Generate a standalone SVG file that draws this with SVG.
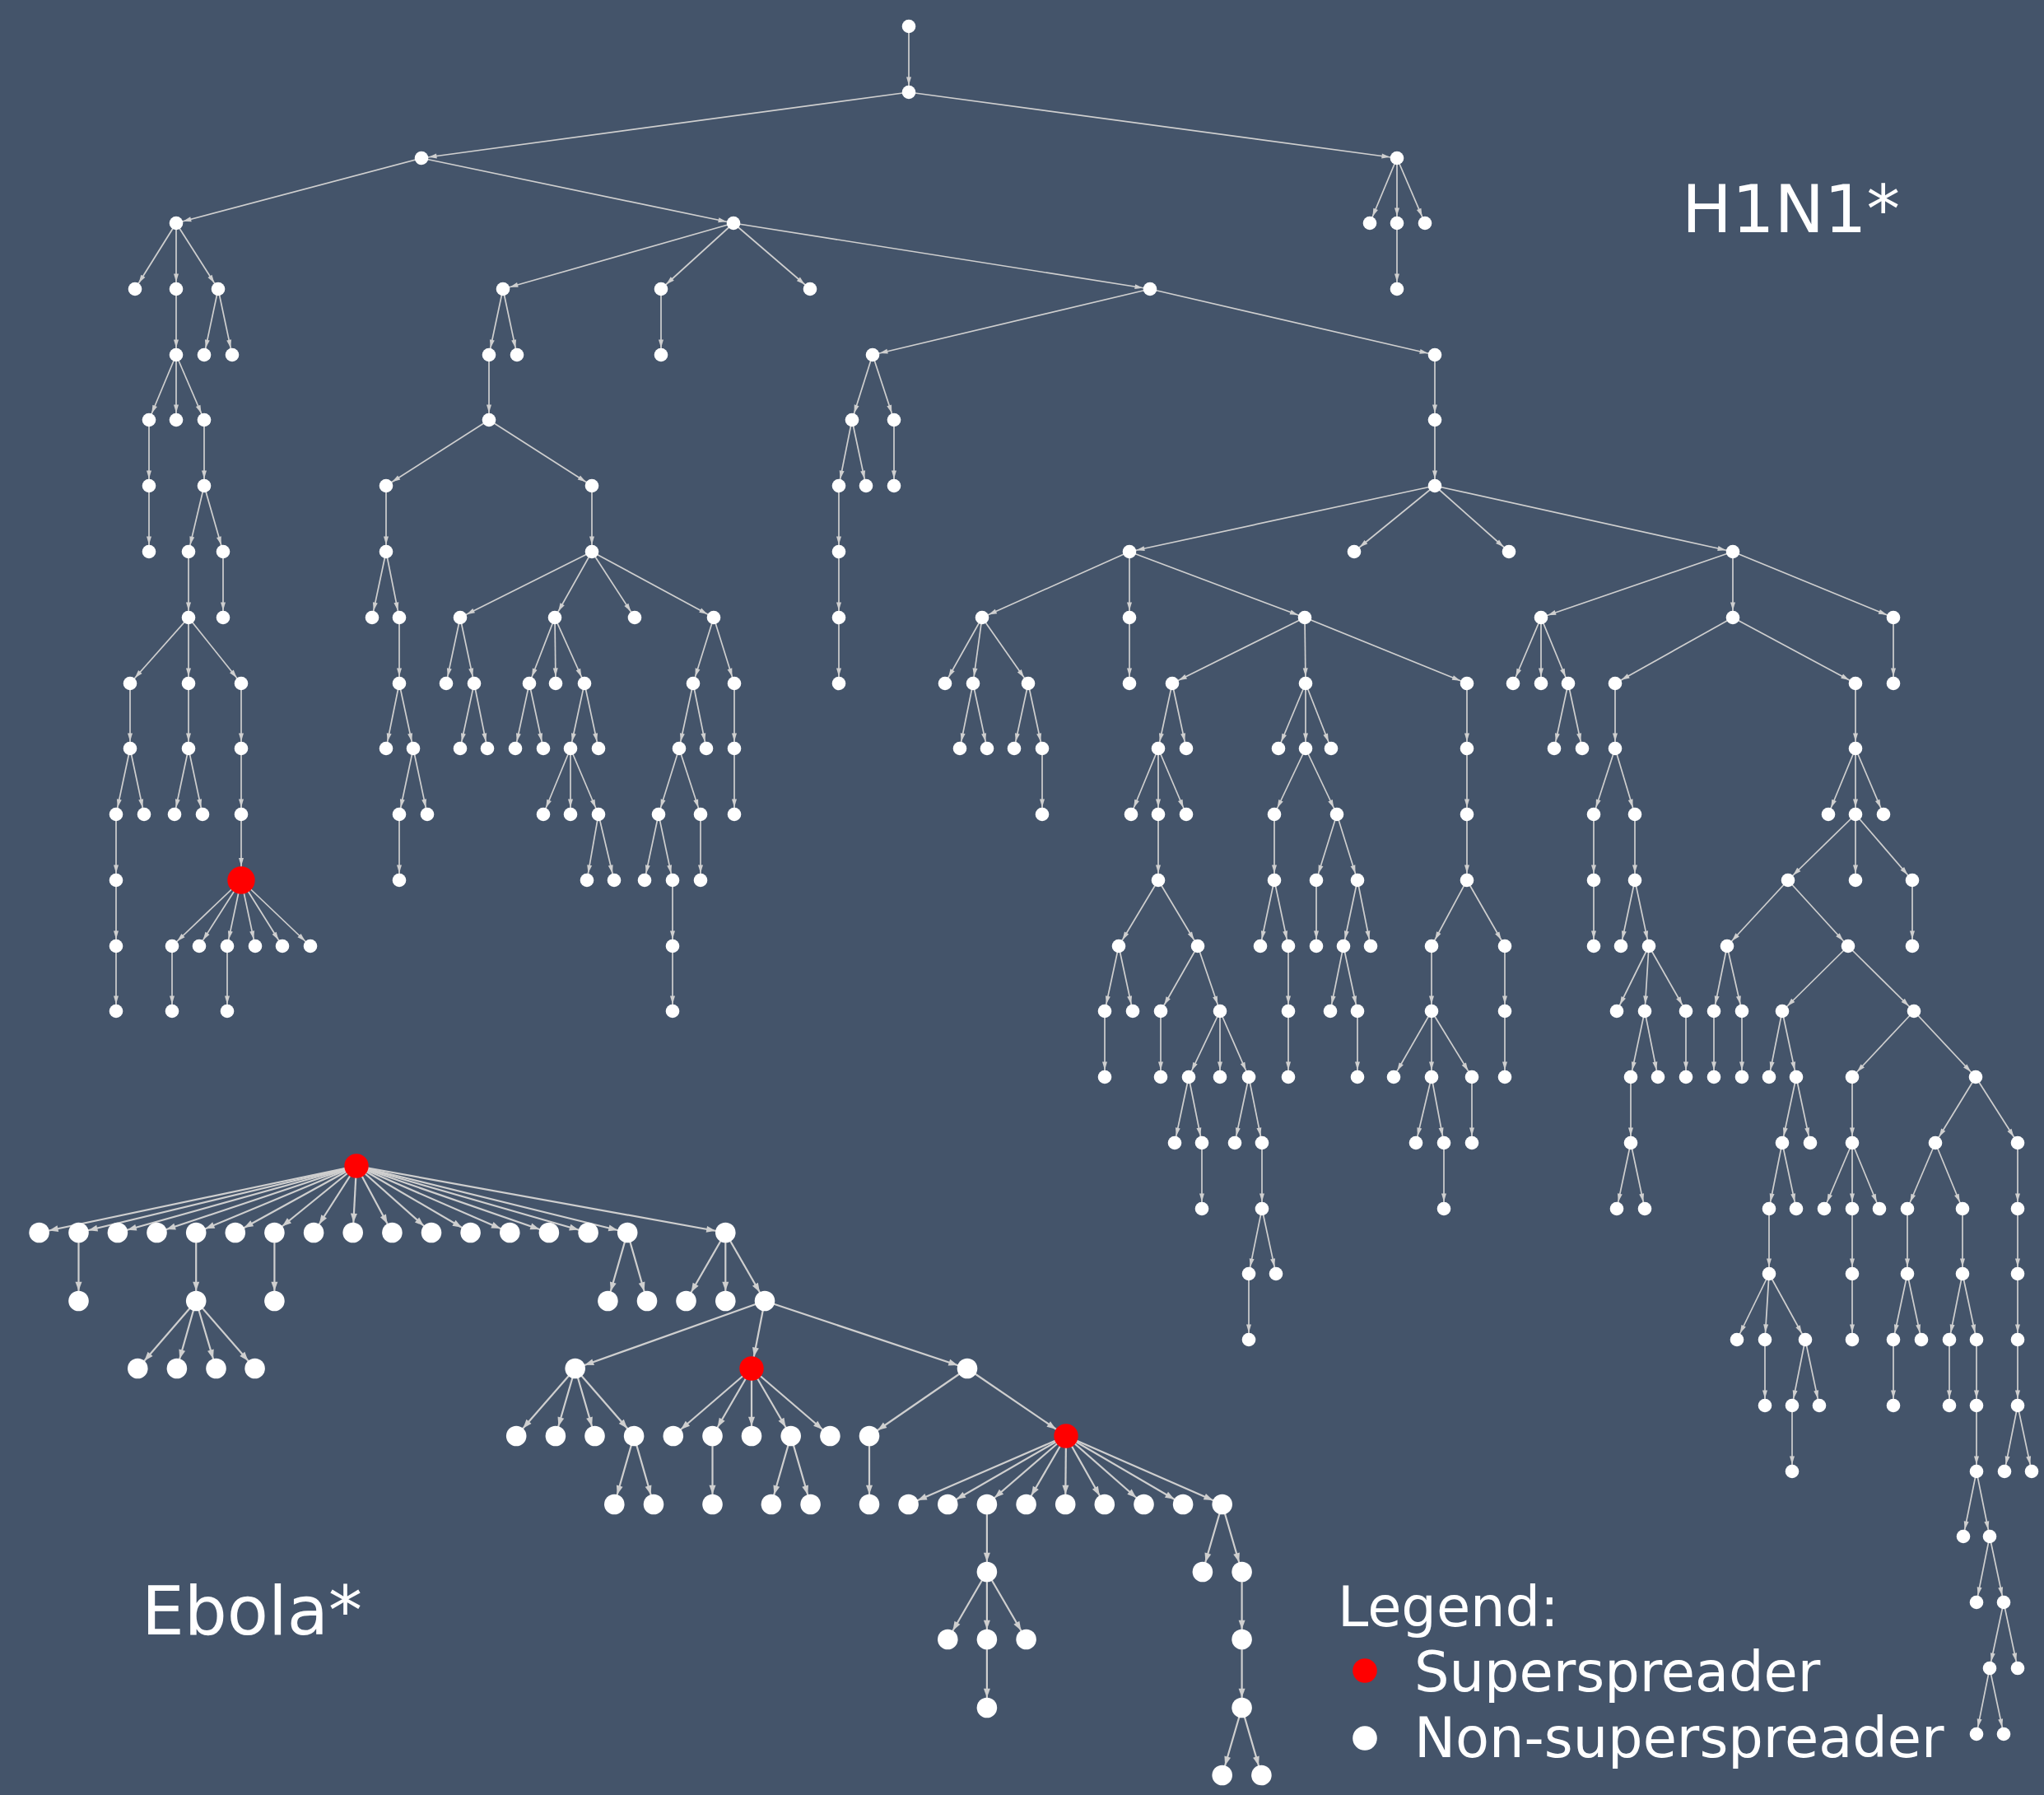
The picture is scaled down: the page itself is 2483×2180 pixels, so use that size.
<svg xmlns="http://www.w3.org/2000/svg" width="2483" height="2180" viewBox="0 0 2483 2180">
<defs>
<style>
.eh line{stroke:#cfcfcf;stroke-width:1.7;marker-end:url(#ah)}
.eh line.r{marker-end:url(#ahr)}
.ee line{stroke:#cfcfcf;stroke-width:2.2;marker-end:url(#ae)}
.ee line.r{marker-end:url(#aer)}
.w circle{fill:#ffffff}
circle.s{fill:#ff0000}
text{font-family:"DejaVu Sans","Liberation Sans",sans-serif;fill:#ffffff}
</style>
<marker id="ah" markerUnits="userSpaceOnUse" markerWidth="11" markerHeight="6" refX="18.6" refY="3" orient="auto" style="overflow:visible"><path d="M0,0L10,3L0,6z" fill="#cfcfcf"/></marker>
<marker id="ahr" markerUnits="userSpaceOnUse" markerWidth="11" markerHeight="6" refX="27" refY="3" orient="auto" style="overflow:visible"><path d="M0,0L10,3L0,6z" fill="#cfcfcf"/></marker>
<marker id="ae" markerUnits="userSpaceOnUse" markerWidth="12" markerHeight="8" refX="23.3" refY="4" orient="auto" style="overflow:visible"><path d="M0,0L11,4L0,8z" fill="#cfcfcf"/></marker>
<marker id="aer" markerUnits="userSpaceOnUse" markerWidth="12" markerHeight="8" refX="25.8" refY="4" orient="auto" style="overflow:visible"><path d="M0,0L11,4L0,8z" fill="#cfcfcf"/></marker>
</defs>
<rect x="0" y="0" width="2483" height="2180" fill="#44546a"/>
<g id="connectors">
<g id="edges-h1n1" class="eh">
<line x1="1104" y1="32" x2="1104" y2="112"/>
<line x1="1104" y1="112" x2="512" y2="192"/>
<line x1="1104" y1="112" x2="1697" y2="192"/>
<line x1="1697" y1="192" x2="1664" y2="271"/>
<line x1="1697" y1="192" x2="1697" y2="271"/>
<line x1="1697" y1="192" x2="1731" y2="271"/>
<line x1="1697" y1="271" x2="1697" y2="351"/>
<line x1="512" y1="192" x2="214" y2="271"/>
<line x1="512" y1="192" x2="891" y2="271"/>
<line x1="214" y1="271" x2="164" y2="351"/>
<line x1="214" y1="271" x2="214" y2="351"/>
<line x1="214" y1="271" x2="265" y2="351"/>
<line x1="265" y1="351" x2="248" y2="431"/>
<line x1="265" y1="351" x2="282" y2="431"/>
<line x1="214" y1="351" x2="214" y2="431"/>
<line x1="214" y1="431" x2="181" y2="510"/>
<line x1="214" y1="431" x2="214" y2="510"/>
<line x1="214" y1="431" x2="248" y2="510"/>
<line x1="181" y1="510" x2="181" y2="590"/>
<line x1="181" y1="590" x2="181" y2="670"/>
<line x1="248" y1="510" x2="248" y2="590"/>
<line x1="248" y1="590" x2="229" y2="670"/>
<line x1="248" y1="590" x2="271" y2="670"/>
<line x1="229" y1="670" x2="229" y2="750"/>
<line x1="271" y1="670" x2="271" y2="750"/>
<line x1="229" y1="750" x2="158" y2="830"/>
<line x1="229" y1="750" x2="229" y2="830"/>
<line x1="229" y1="750" x2="293" y2="830"/>
<line x1="158" y1="830" x2="158" y2="909"/>
<line x1="158" y1="909" x2="141" y2="989"/>
<line x1="158" y1="909" x2="175" y2="989"/>
<line x1="141" y1="989" x2="141" y2="1069"/>
<line x1="141" y1="1069" x2="141" y2="1149"/>
<line x1="141" y1="1149" x2="141" y2="1228"/>
<line x1="229" y1="830" x2="229" y2="909"/>
<line x1="229" y1="909" x2="212" y2="989"/>
<line x1="229" y1="909" x2="246" y2="989"/>
<line x1="293" y1="830" x2="293" y2="909"/>
<line x1="293" y1="909" x2="293" y2="989"/>
<line class="r" x1="293" y1="989" x2="293" y2="1069"/>
<line x1="293" y1="1069" x2="209" y2="1149"/>
<line x1="293" y1="1069" x2="242" y2="1149"/>
<line x1="293" y1="1069" x2="276" y2="1149"/>
<line x1="293" y1="1069" x2="310" y2="1149"/>
<line x1="293" y1="1069" x2="343" y2="1149"/>
<line x1="293" y1="1069" x2="377" y2="1149"/>
<line x1="209" y1="1149" x2="209" y2="1228"/>
<line x1="276" y1="1149" x2="276" y2="1228"/>
<line x1="891" y1="271" x2="611" y2="351"/>
<line x1="891" y1="271" x2="803" y2="351"/>
<line x1="891" y1="271" x2="984" y2="351"/>
<line x1="891" y1="271" x2="1397" y2="351"/>
<line x1="611" y1="351" x2="594" y2="431"/>
<line x1="611" y1="351" x2="628" y2="431"/>
<line x1="803" y1="351" x2="803" y2="431"/>
<line x1="594" y1="431" x2="594" y2="510"/>
<line x1="594" y1="510" x2="469" y2="590"/>
<line x1="594" y1="510" x2="719" y2="590"/>
<line x1="469" y1="590" x2="469" y2="670"/>
<line x1="469" y1="670" x2="452" y2="750"/>
<line x1="469" y1="670" x2="485" y2="750"/>
<line x1="485" y1="750" x2="485" y2="830"/>
<line x1="485" y1="830" x2="469" y2="909"/>
<line x1="485" y1="830" x2="502" y2="909"/>
<line x1="502" y1="909" x2="485" y2="989"/>
<line x1="502" y1="909" x2="519" y2="989"/>
<line x1="485" y1="989" x2="485" y2="1069"/>
<line x1="719" y1="590" x2="719" y2="670"/>
<line x1="719" y1="670" x2="559" y2="750"/>
<line x1="719" y1="670" x2="674" y2="750"/>
<line x1="719" y1="670" x2="771" y2="750"/>
<line x1="719" y1="670" x2="867" y2="750"/>
<line x1="559" y1="750" x2="542" y2="830"/>
<line x1="559" y1="750" x2="576" y2="830"/>
<line x1="576" y1="830" x2="559" y2="909"/>
<line x1="576" y1="830" x2="592" y2="909"/>
<line x1="674" y1="750" x2="643" y2="830"/>
<line x1="674" y1="750" x2="675" y2="830"/>
<line x1="674" y1="750" x2="710" y2="830"/>
<line x1="643" y1="830" x2="626" y2="909"/>
<line x1="643" y1="830" x2="660" y2="909"/>
<line x1="710" y1="830" x2="693" y2="909"/>
<line x1="710" y1="830" x2="727" y2="909"/>
<line x1="693" y1="909" x2="660" y2="989"/>
<line x1="693" y1="909" x2="693" y2="989"/>
<line x1="693" y1="909" x2="727" y2="989"/>
<line x1="727" y1="989" x2="713" y2="1069"/>
<line x1="727" y1="989" x2="746" y2="1069"/>
<line x1="867" y1="750" x2="842" y2="830"/>
<line x1="867" y1="750" x2="892" y2="830"/>
<line x1="842" y1="830" x2="825" y2="909"/>
<line x1="842" y1="830" x2="858" y2="909"/>
<line x1="825" y1="909" x2="800" y2="989"/>
<line x1="825" y1="909" x2="851" y2="989"/>
<line x1="800" y1="989" x2="783" y2="1069"/>
<line x1="800" y1="989" x2="817" y2="1069"/>
<line x1="817" y1="1069" x2="817" y2="1149"/>
<line x1="817" y1="1149" x2="817" y2="1228"/>
<line x1="851" y1="989" x2="851" y2="1069"/>
<line x1="892" y1="830" x2="892" y2="909"/>
<line x1="892" y1="909" x2="892" y2="989"/>
<line x1="1397" y1="351" x2="1060" y2="431"/>
<line x1="1397" y1="351" x2="1743" y2="431"/>
<line x1="1060" y1="431" x2="1035" y2="510"/>
<line x1="1060" y1="431" x2="1086" y2="510"/>
<line x1="1035" y1="510" x2="1019" y2="590"/>
<line x1="1035" y1="510" x2="1052" y2="590"/>
<line x1="1086" y1="510" x2="1086" y2="590"/>
<line x1="1019" y1="590" x2="1019" y2="670"/>
<line x1="1019" y1="670" x2="1019" y2="750"/>
<line x1="1019" y1="750" x2="1019" y2="830"/>
<line x1="1743" y1="431" x2="1743" y2="510"/>
<line x1="1743" y1="510" x2="1743" y2="590"/>
<line x1="1743" y1="590" x2="1372" y2="670"/>
<line x1="1743" y1="590" x2="1645" y2="670"/>
<line x1="1743" y1="590" x2="1833" y2="670"/>
<line x1="1743" y1="590" x2="2105" y2="670"/>
<line x1="1372" y1="670" x2="1193" y2="750"/>
<line x1="1372" y1="670" x2="1372" y2="750"/>
<line x1="1372" y1="670" x2="1585" y2="750"/>
<line x1="1193" y1="750" x2="1148" y2="830"/>
<line x1="1193" y1="750" x2="1182" y2="830"/>
<line x1="1193" y1="750" x2="1249" y2="830"/>
<line x1="1182" y1="830" x2="1166" y2="909"/>
<line x1="1182" y1="830" x2="1199" y2="909"/>
<line x1="1249" y1="830" x2="1232" y2="909"/>
<line x1="1249" y1="830" x2="1266" y2="909"/>
<line x1="1266" y1="909" x2="1266" y2="989"/>
<line x1="1372" y1="750" x2="1372" y2="830"/>
<line x1="1585" y1="750" x2="1424" y2="830"/>
<line x1="1585" y1="750" x2="1586" y2="830"/>
<line x1="1585" y1="750" x2="1782" y2="830"/>
<line x1="1424" y1="830" x2="1407" y2="909"/>
<line x1="1424" y1="830" x2="1441" y2="909"/>
<line x1="1407" y1="909" x2="1374" y2="989"/>
<line x1="1407" y1="909" x2="1407" y2="989"/>
<line x1="1407" y1="909" x2="1441" y2="989"/>
<line x1="1407" y1="989" x2="1407" y2="1069"/>
<line x1="1407" y1="1069" x2="1359" y2="1149"/>
<line x1="1407" y1="1069" x2="1455" y2="1149"/>
<line x1="1359" y1="1149" x2="1342" y2="1228"/>
<line x1="1359" y1="1149" x2="1376" y2="1228"/>
<line x1="1342" y1="1228" x2="1342" y2="1308"/>
<line x1="1455" y1="1149" x2="1410" y2="1228"/>
<line x1="1455" y1="1149" x2="1482" y2="1228"/>
<line x1="1410" y1="1228" x2="1410" y2="1308"/>
<line x1="1482" y1="1228" x2="1444" y2="1308"/>
<line x1="1482" y1="1228" x2="1482" y2="1308"/>
<line x1="1482" y1="1228" x2="1517" y2="1308"/>
<line x1="1444" y1="1308" x2="1427" y2="1388"/>
<line x1="1444" y1="1308" x2="1460" y2="1388"/>
<line x1="1460" y1="1388" x2="1460" y2="1468"/>
<line x1="1517" y1="1308" x2="1500" y2="1388"/>
<line x1="1517" y1="1308" x2="1533" y2="1388"/>
<line x1="1533" y1="1388" x2="1533" y2="1468"/>
<line x1="1533" y1="1468" x2="1517" y2="1547"/>
<line x1="1533" y1="1468" x2="1550" y2="1547"/>
<line x1="1517" y1="1547" x2="1517" y2="1627"/>
<line x1="1586" y1="830" x2="1553" y2="909"/>
<line x1="1586" y1="830" x2="1586" y2="909"/>
<line x1="1586" y1="830" x2="1617" y2="909"/>
<line x1="1586" y1="909" x2="1548" y2="989"/>
<line x1="1586" y1="909" x2="1624" y2="989"/>
<line x1="1548" y1="989" x2="1548" y2="1069"/>
<line x1="1548" y1="1069" x2="1531" y2="1149"/>
<line x1="1548" y1="1069" x2="1565" y2="1149"/>
<line x1="1565" y1="1149" x2="1565" y2="1228"/>
<line x1="1565" y1="1228" x2="1565" y2="1308"/>
<line x1="1624" y1="989" x2="1599" y2="1069"/>
<line x1="1624" y1="989" x2="1649" y2="1069"/>
<line x1="1599" y1="1069" x2="1599" y2="1149"/>
<line x1="1649" y1="1069" x2="1632" y2="1149"/>
<line x1="1649" y1="1069" x2="1665" y2="1149"/>
<line x1="1632" y1="1149" x2="1616" y2="1228"/>
<line x1="1632" y1="1149" x2="1649" y2="1228"/>
<line x1="1649" y1="1228" x2="1649" y2="1308"/>
<line x1="1782" y1="830" x2="1782" y2="909"/>
<line x1="1782" y1="909" x2="1782" y2="989"/>
<line x1="1782" y1="989" x2="1782" y2="1069"/>
<line x1="1782" y1="1069" x2="1739" y2="1149"/>
<line x1="1782" y1="1069" x2="1828" y2="1149"/>
<line x1="1739" y1="1149" x2="1739" y2="1228"/>
<line x1="1739" y1="1228" x2="1693" y2="1308"/>
<line x1="1739" y1="1228" x2="1739" y2="1308"/>
<line x1="1739" y1="1228" x2="1788" y2="1308"/>
<line x1="1739" y1="1308" x2="1720" y2="1388"/>
<line x1="1739" y1="1308" x2="1754" y2="1388"/>
<line x1="1754" y1="1388" x2="1754" y2="1468"/>
<line x1="1788" y1="1308" x2="1788" y2="1388"/>
<line x1="1828" y1="1149" x2="1828" y2="1228"/>
<line x1="1828" y1="1228" x2="1828" y2="1308"/>
<line x1="2105" y1="670" x2="1872" y2="750"/>
<line x1="2105" y1="670" x2="2105" y2="750"/>
<line x1="2105" y1="670" x2="2300" y2="750"/>
<line x1="1872" y1="750" x2="1838" y2="830"/>
<line x1="1872" y1="750" x2="1872" y2="830"/>
<line x1="1872" y1="750" x2="1905" y2="830"/>
<line x1="1905" y1="830" x2="1888" y2="909"/>
<line x1="1905" y1="830" x2="1922" y2="909"/>
<line x1="2300" y1="750" x2="2300" y2="830"/>
<line x1="2105" y1="750" x2="1962" y2="830"/>
<line x1="2105" y1="750" x2="2254" y2="830"/>
<line x1="1962" y1="830" x2="1962" y2="909"/>
<line x1="1962" y1="909" x2="1936" y2="989"/>
<line x1="1962" y1="909" x2="1986" y2="989"/>
<line x1="1936" y1="989" x2="1936" y2="1069"/>
<line x1="1936" y1="1069" x2="1936" y2="1149"/>
<line x1="1986" y1="989" x2="1986" y2="1069"/>
<line x1="1986" y1="1069" x2="1969" y2="1149"/>
<line x1="1986" y1="1069" x2="2003" y2="1149"/>
<line x1="2003" y1="1149" x2="1964" y2="1228"/>
<line x1="2003" y1="1149" x2="1998" y2="1228"/>
<line x1="2003" y1="1149" x2="2048" y2="1228"/>
<line x1="1998" y1="1228" x2="1981" y2="1308"/>
<line x1="1998" y1="1228" x2="2014" y2="1308"/>
<line x1="1981" y1="1308" x2="1981" y2="1388"/>
<line x1="1981" y1="1388" x2="1964" y2="1468"/>
<line x1="1981" y1="1388" x2="1998" y2="1468"/>
<line x1="2048" y1="1228" x2="2048" y2="1308"/>
<line x1="2254" y1="830" x2="2254" y2="909"/>
<line x1="2254" y1="909" x2="2221" y2="989"/>
<line x1="2254" y1="909" x2="2254" y2="989"/>
<line x1="2254" y1="909" x2="2288" y2="989"/>
<line x1="2254" y1="989" x2="2172" y2="1069"/>
<line x1="2254" y1="989" x2="2254" y2="1069"/>
<line x1="2254" y1="989" x2="2323" y2="1069"/>
<line x1="2323" y1="1069" x2="2323" y2="1149"/>
<line x1="2172" y1="1069" x2="2098" y2="1149"/>
<line x1="2172" y1="1069" x2="2245" y2="1149"/>
<line x1="2098" y1="1149" x2="2082" y2="1228"/>
<line x1="2098" y1="1149" x2="2116" y2="1228"/>
<line x1="2082" y1="1228" x2="2082" y2="1308"/>
<line x1="2116" y1="1228" x2="2116" y2="1308"/>
<line x1="2245" y1="1149" x2="2165" y2="1228"/>
<line x1="2245" y1="1149" x2="2325" y2="1228"/>
<line x1="2165" y1="1228" x2="2149" y2="1308"/>
<line x1="2165" y1="1228" x2="2182" y2="1308"/>
<line x1="2182" y1="1308" x2="2165" y2="1388"/>
<line x1="2182" y1="1308" x2="2199" y2="1388"/>
<line x1="2165" y1="1388" x2="2149" y2="1468"/>
<line x1="2165" y1="1388" x2="2182" y2="1468"/>
<line x1="2149" y1="1468" x2="2149" y2="1547"/>
<line x1="2149" y1="1547" x2="2110" y2="1627"/>
<line x1="2149" y1="1547" x2="2144" y2="1627"/>
<line x1="2149" y1="1547" x2="2193" y2="1627"/>
<line x1="2144" y1="1627" x2="2144" y2="1707"/>
<line x1="2193" y1="1627" x2="2177" y2="1707"/>
<line x1="2193" y1="1627" x2="2210" y2="1707"/>
<line x1="2177" y1="1707" x2="2177" y2="1787"/>
<line x1="2325" y1="1228" x2="2250" y2="1308"/>
<line x1="2325" y1="1228" x2="2400" y2="1308"/>
<line x1="2250" y1="1308" x2="2250" y2="1388"/>
<line x1="2250" y1="1388" x2="2216" y2="1468"/>
<line x1="2250" y1="1388" x2="2250" y2="1468"/>
<line x1="2250" y1="1388" x2="2283" y2="1468"/>
<line x1="2250" y1="1468" x2="2250" y2="1547"/>
<line x1="2250" y1="1547" x2="2250" y2="1627"/>
<line x1="2400" y1="1308" x2="2351" y2="1388"/>
<line x1="2400" y1="1308" x2="2451" y2="1388"/>
<line x1="2351" y1="1388" x2="2317" y2="1468"/>
<line x1="2351" y1="1388" x2="2384" y2="1468"/>
<line x1="2317" y1="1468" x2="2317" y2="1547"/>
<line x1="2317" y1="1547" x2="2300" y2="1627"/>
<line x1="2317" y1="1547" x2="2334" y2="1627"/>
<line x1="2300" y1="1627" x2="2300" y2="1707"/>
<line x1="2384" y1="1468" x2="2384" y2="1547"/>
<line x1="2384" y1="1547" x2="2368" y2="1627"/>
<line x1="2384" y1="1547" x2="2401" y2="1627"/>
<line x1="2368" y1="1627" x2="2368" y2="1707"/>
<line x1="2401" y1="1627" x2="2401" y2="1707"/>
<line x1="2401" y1="1707" x2="2401" y2="1787"/>
<line x1="2401" y1="1787" x2="2385" y2="1866"/>
<line x1="2401" y1="1787" x2="2417" y2="1866"/>
<line x1="2417" y1="1866" x2="2401" y2="1946"/>
<line x1="2417" y1="1866" x2="2434" y2="1946"/>
<line x1="2434" y1="1946" x2="2417" y2="2026"/>
<line x1="2434" y1="1946" x2="2451" y2="2026"/>
<line x1="2417" y1="2026" x2="2401" y2="2106"/>
<line x1="2417" y1="2026" x2="2434" y2="2106"/>
<line x1="2451" y1="1388" x2="2451" y2="1468"/>
<line x1="2451" y1="1468" x2="2451" y2="1547"/>
<line x1="2451" y1="1547" x2="2451" y2="1627"/>
<line x1="2451" y1="1627" x2="2451" y2="1707"/>
<line x1="2451" y1="1707" x2="2435" y2="1787"/>
<line x1="2451" y1="1707" x2="2468" y2="1787"/>
</g>
<g id="edges-ebola" class="ee">
<line x1="433" y1="1416" x2="47.6" y2="1497"/>
<line x1="433" y1="1416" x2="95.5" y2="1497"/>
<line x1="433" y1="1416" x2="142.9" y2="1497"/>
<line x1="433" y1="1416" x2="190.5" y2="1497"/>
<line x1="433" y1="1416" x2="238.2" y2="1497"/>
<line x1="433" y1="1416" x2="285.8" y2="1497"/>
<line x1="433" y1="1416" x2="333.4" y2="1497"/>
<line x1="433" y1="1416" x2="381.1" y2="1497"/>
<line x1="433" y1="1416" x2="428.7" y2="1497"/>
<line x1="433" y1="1416" x2="476.4" y2="1497"/>
<line x1="433" y1="1416" x2="524" y2="1497"/>
<line x1="433" y1="1416" x2="571.6" y2="1497"/>
<line x1="433" y1="1416" x2="619.3" y2="1497"/>
<line x1="433" y1="1416" x2="666.9" y2="1497"/>
<line x1="433" y1="1416" x2="714.6" y2="1497"/>
<line x1="433" y1="1416" x2="762.2" y2="1497"/>
<line x1="433" y1="1416" x2="881.3" y2="1497"/>
<line x1="95.5" y1="1497" x2="95.5" y2="1580"/>
<line x1="238.2" y1="1497" x2="238.2" y2="1580"/>
<line x1="333.4" y1="1497" x2="333.4" y2="1580"/>
<line x1="762.2" y1="1497" x2="738.4" y2="1580"/>
<line x1="762.2" y1="1497" x2="786" y2="1580"/>
<line x1="881.3" y1="1497" x2="833.5" y2="1580"/>
<line x1="881.3" y1="1497" x2="881.3" y2="1580"/>
<line x1="881.3" y1="1497" x2="929" y2="1580"/>
<line x1="238.2" y1="1580" x2="167.3" y2="1662"/>
<line x1="238.2" y1="1580" x2="214.9" y2="1662"/>
<line x1="238.2" y1="1580" x2="262.5" y2="1662"/>
<line x1="238.2" y1="1580" x2="309.6" y2="1662"/>
<line x1="929" y1="1580" x2="698.7" y2="1662"/>
<line class="r" x1="929" y1="1580" x2="913" y2="1662"/>
<line x1="929" y1="1580" x2="1175" y2="1662"/>
<line x1="698.7" y1="1662" x2="627.2" y2="1744"/>
<line x1="698.7" y1="1662" x2="674.9" y2="1744"/>
<line x1="698.7" y1="1662" x2="722.5" y2="1744"/>
<line x1="698.7" y1="1662" x2="770.1" y2="1744"/>
<line x1="770.1" y1="1744" x2="746.3" y2="1827"/>
<line x1="770.1" y1="1744" x2="794" y2="1827"/>
<line x1="913" y1="1662" x2="817.8" y2="1744"/>
<line x1="913" y1="1662" x2="865.5" y2="1744"/>
<line x1="913" y1="1662" x2="913" y2="1744"/>
<line x1="913" y1="1662" x2="960.7" y2="1744"/>
<line x1="913" y1="1662" x2="1008.4" y2="1744"/>
<line x1="865.5" y1="1744" x2="865.5" y2="1827"/>
<line x1="960.7" y1="1744" x2="936.9" y2="1827"/>
<line x1="960.7" y1="1744" x2="984.6" y2="1827"/>
<line x1="1175" y1="1662" x2="1056" y2="1744"/>
<line class="r" x1="1175" y1="1662" x2="1295" y2="1744"/>
<line x1="1056" y1="1744" x2="1056" y2="1827"/>
<line x1="1295" y1="1744" x2="1103.6" y2="1827"/>
<line x1="1295" y1="1744" x2="1151.3" y2="1827"/>
<line x1="1295" y1="1744" x2="1198.9" y2="1827"/>
<line x1="1295" y1="1744" x2="1246.6" y2="1827"/>
<line x1="1295" y1="1744" x2="1294.2" y2="1827"/>
<line x1="1295" y1="1744" x2="1341.8" y2="1827"/>
<line x1="1295" y1="1744" x2="1389.5" y2="1827"/>
<line x1="1295" y1="1744" x2="1437.1" y2="1827"/>
<line x1="1295" y1="1744" x2="1484.7" y2="1827"/>
<line x1="1198.9" y1="1827" x2="1198.9" y2="1909"/>
<line x1="1198.9" y1="1909" x2="1151.3" y2="1991"/>
<line x1="1198.9" y1="1909" x2="1198.9" y2="1991"/>
<line x1="1198.9" y1="1909" x2="1246.6" y2="1991"/>
<line x1="1198.9" y1="1991" x2="1198.9" y2="2074"/>
<line x1="1484.7" y1="1827" x2="1460.9" y2="1909"/>
<line x1="1484.7" y1="1827" x2="1508.6" y2="1909"/>
<line x1="1508.6" y1="1909" x2="1508.6" y2="1991"/>
<line x1="1508.6" y1="1991" x2="1508.6" y2="2074"/>
<line x1="1508.6" y1="2074" x2="1484.7" y2="2156"/>
<line x1="1508.6" y1="2074" x2="1532.4" y2="2156"/>
</g>
</g>
<g id="nodes-h1n1" class="w">
<g id="h1"><circle cx="1104" cy="32" r="8.3"/></g>
<g id="h2"><circle cx="1104" cy="112" r="8.3"/></g>
<g id="h3"><circle cx="512" cy="192" r="8.3"/></g>
<g id="h4"><circle cx="1697" cy="192" r="8.3"/></g>
<g id="h5"><circle cx="214" cy="271" r="8.3"/></g>
<g id="h6"><circle cx="891" cy="271" r="8.3"/></g>
<g id="h7"><circle cx="1664" cy="271" r="8.3"/></g>
<g id="h8"><circle cx="1697" cy="271" r="8.3"/></g>
<g id="h9"><circle cx="1731" cy="271" r="8.3"/></g>
<g id="h10"><circle cx="164" cy="351" r="8.3"/></g>
<g id="h11"><circle cx="214" cy="351" r="8.3"/></g>
<g id="h12"><circle cx="265" cy="351" r="8.3"/></g>
<g id="h13"><circle cx="611" cy="351" r="8.3"/></g>
<g id="h14"><circle cx="803" cy="351" r="8.3"/></g>
<g id="h15"><circle cx="984" cy="351" r="8.3"/></g>
<g id="h16"><circle cx="1397" cy="351" r="8.3"/></g>
<g id="h17"><circle cx="1697" cy="351" r="8.3"/></g>
<g id="h18"><circle cx="214" cy="431" r="8.3"/></g>
<g id="h19"><circle cx="248" cy="431" r="8.3"/></g>
<g id="h20"><circle cx="282" cy="431" r="8.3"/></g>
<g id="h21"><circle cx="594" cy="431" r="8.3"/></g>
<g id="h22"><circle cx="628" cy="431" r="8.3"/></g>
<g id="h23"><circle cx="803" cy="431" r="8.3"/></g>
<g id="h24"><circle cx="1060" cy="431" r="8.3"/></g>
<g id="h25"><circle cx="1743" cy="431" r="8.3"/></g>
<g id="h26"><circle cx="181" cy="510" r="8.3"/></g>
<g id="h27"><circle cx="214" cy="510" r="8.3"/></g>
<g id="h28"><circle cx="248" cy="510" r="8.3"/></g>
<g id="h29"><circle cx="594" cy="510" r="8.3"/></g>
<g id="h30"><circle cx="1035" cy="510" r="8.3"/></g>
<g id="h31"><circle cx="1086" cy="510" r="8.3"/></g>
<g id="h32"><circle cx="1743" cy="510" r="8.3"/></g>
<g id="h33"><circle cx="181" cy="590" r="8.3"/></g>
<g id="h34"><circle cx="248" cy="590" r="8.3"/></g>
<g id="h35"><circle cx="469" cy="590" r="8.3"/></g>
<g id="h36"><circle cx="719" cy="590" r="8.3"/></g>
<g id="h37"><circle cx="1019" cy="590" r="8.3"/></g>
<g id="h38"><circle cx="1052" cy="590" r="8.3"/></g>
<g id="h39"><circle cx="1086" cy="590" r="8.3"/></g>
<g id="h40"><circle cx="1743" cy="590" r="8.3"/></g>
<g id="h41"><circle cx="181" cy="670" r="8.3"/></g>
<g id="h42"><circle cx="229" cy="670" r="8.3"/></g>
<g id="h43"><circle cx="271" cy="670" r="8.3"/></g>
<g id="h44"><circle cx="469" cy="670" r="8.3"/></g>
<g id="h45"><circle cx="719" cy="670" r="8.3"/></g>
<g id="h46"><circle cx="1019" cy="670" r="8.3"/></g>
<g id="h47"><circle cx="1372" cy="670" r="8.3"/></g>
<g id="h48"><circle cx="1645" cy="670" r="8.3"/></g>
<g id="h49"><circle cx="1833" cy="670" r="8.3"/></g>
<g id="h50"><circle cx="2105" cy="670" r="8.3"/></g>
<g id="h51"><circle cx="229" cy="750" r="8.3"/></g>
<g id="h52"><circle cx="271" cy="750" r="8.3"/></g>
<g id="h53"><circle cx="452" cy="750" r="8.3"/></g>
<g id="h54"><circle cx="485" cy="750" r="8.3"/></g>
<g id="h55"><circle cx="559" cy="750" r="8.3"/></g>
<g id="h56"><circle cx="674" cy="750" r="8.3"/></g>
<g id="h57"><circle cx="771" cy="750" r="8.3"/></g>
<g id="h58"><circle cx="867" cy="750" r="8.3"/></g>
<g id="h59"><circle cx="1019" cy="750" r="8.3"/></g>
<g id="h60"><circle cx="1193" cy="750" r="8.3"/></g>
<g id="h61"><circle cx="1372" cy="750" r="8.3"/></g>
<g id="h62"><circle cx="1585" cy="750" r="8.3"/></g>
<g id="h63"><circle cx="1872" cy="750" r="8.3"/></g>
<g id="h64"><circle cx="2105" cy="750" r="8.3"/></g>
<g id="h65"><circle cx="2300" cy="750" r="8.3"/></g>
<g id="h66"><circle cx="158" cy="830" r="8.3"/></g>
<g id="h67"><circle cx="229" cy="830" r="8.3"/></g>
<g id="h68"><circle cx="293" cy="830" r="8.3"/></g>
<g id="h69"><circle cx="485" cy="830" r="8.3"/></g>
<g id="h70"><circle cx="542" cy="830" r="8.3"/></g>
<g id="h71"><circle cx="576" cy="830" r="8.3"/></g>
<g id="h72"><circle cx="643" cy="830" r="8.3"/></g>
<g id="h73"><circle cx="675" cy="830" r="8.3"/></g>
<g id="h74"><circle cx="710" cy="830" r="8.3"/></g>
<g id="h75"><circle cx="842" cy="830" r="8.3"/></g>
<g id="h76"><circle cx="892" cy="830" r="8.3"/></g>
<g id="h77"><circle cx="1019" cy="830" r="8.3"/></g>
<g id="h78"><circle cx="1148" cy="830" r="8.3"/></g>
<g id="h79"><circle cx="1182" cy="830" r="8.3"/></g>
<g id="h80"><circle cx="1249" cy="830" r="8.3"/></g>
<g id="h81"><circle cx="1372" cy="830" r="8.3"/></g>
<g id="h82"><circle cx="1424" cy="830" r="8.3"/></g>
<g id="h83"><circle cx="1586" cy="830" r="8.3"/></g>
<g id="h84"><circle cx="1782" cy="830" r="8.3"/></g>
<g id="h85"><circle cx="1838" cy="830" r="8.3"/></g>
<g id="h86"><circle cx="1872" cy="830" r="8.3"/></g>
<g id="h87"><circle cx="1905" cy="830" r="8.3"/></g>
<g id="h88"><circle cx="1962" cy="830" r="8.3"/></g>
<g id="h89"><circle cx="2254" cy="830" r="8.3"/></g>
<g id="h90"><circle cx="2300" cy="830" r="8.3"/></g>
<g id="h91"><circle cx="158" cy="909" r="8.3"/></g>
<g id="h92"><circle cx="229" cy="909" r="8.3"/></g>
<g id="h93"><circle cx="293" cy="909" r="8.3"/></g>
<g id="h94"><circle cx="469" cy="909" r="8.3"/></g>
<g id="h95"><circle cx="502" cy="909" r="8.3"/></g>
<g id="h96"><circle cx="559" cy="909" r="8.3"/></g>
<g id="h97"><circle cx="592" cy="909" r="8.3"/></g>
<g id="h98"><circle cx="626" cy="909" r="8.3"/></g>
<g id="h99"><circle cx="660" cy="909" r="8.3"/></g>
<g id="h100"><circle cx="693" cy="909" r="8.3"/></g>
<g id="h101"><circle cx="727" cy="909" r="8.3"/></g>
<g id="h102"><circle cx="825" cy="909" r="8.3"/></g>
<g id="h103"><circle cx="858" cy="909" r="8.3"/></g>
<g id="h104"><circle cx="892" cy="909" r="8.3"/></g>
<g id="h105"><circle cx="1166" cy="909" r="8.3"/></g>
<g id="h106"><circle cx="1199" cy="909" r="8.3"/></g>
<g id="h107"><circle cx="1232" cy="909" r="8.3"/></g>
<g id="h108"><circle cx="1266" cy="909" r="8.3"/></g>
<g id="h109"><circle cx="1407" cy="909" r="8.3"/></g>
<g id="h110"><circle cx="1441" cy="909" r="8.3"/></g>
<g id="h111"><circle cx="1553" cy="909" r="8.3"/></g>
<g id="h112"><circle cx="1586" cy="909" r="8.3"/></g>
<g id="h113"><circle cx="1617" cy="909" r="8.3"/></g>
<g id="h114"><circle cx="1782" cy="909" r="8.3"/></g>
<g id="h115"><circle cx="1888" cy="909" r="8.3"/></g>
<g id="h116"><circle cx="1922" cy="909" r="8.3"/></g>
<g id="h117"><circle cx="1962" cy="909" r="8.3"/></g>
<g id="h118"><circle cx="2254" cy="909" r="8.3"/></g>
<g id="h119"><circle cx="141" cy="989" r="8.3"/></g>
<g id="h120"><circle cx="175" cy="989" r="8.3"/></g>
<g id="h121"><circle cx="212" cy="989" r="8.3"/></g>
<g id="h122"><circle cx="246" cy="989" r="8.3"/></g>
<g id="h123"><circle cx="293" cy="989" r="8.3"/></g>
<g id="h124"><circle cx="485" cy="989" r="8.3"/></g>
<g id="h125"><circle cx="519" cy="989" r="8.3"/></g>
<g id="h126"><circle cx="660" cy="989" r="8.3"/></g>
<g id="h127"><circle cx="693" cy="989" r="8.3"/></g>
<g id="h128"><circle cx="727" cy="989" r="8.3"/></g>
<g id="h129"><circle cx="800" cy="989" r="8.3"/></g>
<g id="h130"><circle cx="851" cy="989" r="8.3"/></g>
<g id="h131"><circle cx="892" cy="989" r="8.3"/></g>
<g id="h132"><circle cx="1266" cy="989" r="8.3"/></g>
<g id="h133"><circle cx="1374" cy="989" r="8.3"/></g>
<g id="h134"><circle cx="1407" cy="989" r="8.3"/></g>
<g id="h135"><circle cx="1441" cy="989" r="8.3"/></g>
<g id="h136"><circle cx="1548" cy="989" r="8.3"/></g>
<g id="h137"><circle cx="1624" cy="989" r="8.3"/></g>
<g id="h138"><circle cx="1782" cy="989" r="8.3"/></g>
<g id="h139"><circle cx="1936" cy="989" r="8.3"/></g>
<g id="h140"><circle cx="1986" cy="989" r="8.3"/></g>
<g id="h141"><circle cx="2221" cy="989" r="8.3"/></g>
<g id="h142"><circle cx="2254" cy="989" r="8.3"/></g>
<g id="h143"><circle cx="2288" cy="989" r="8.3"/></g>
<g id="h144"><circle cx="141" cy="1069" r="8.3"/></g>
<g id="h145"><circle class="s" cx="293" cy="1069" r="16.7"/></g>
<g id="h146"><circle cx="485" cy="1069" r="8.3"/></g>
<g id="h147"><circle cx="713" cy="1069" r="8.3"/></g>
<g id="h148"><circle cx="746" cy="1069" r="8.3"/></g>
<g id="h149"><circle cx="783" cy="1069" r="8.3"/></g>
<g id="h150"><circle cx="817" cy="1069" r="8.3"/></g>
<g id="h151"><circle cx="851" cy="1069" r="8.3"/></g>
<g id="h152"><circle cx="1407" cy="1069" r="8.3"/></g>
<g id="h153"><circle cx="1548" cy="1069" r="8.3"/></g>
<g id="h154"><circle cx="1599" cy="1069" r="8.3"/></g>
<g id="h155"><circle cx="1649" cy="1069" r="8.3"/></g>
<g id="h156"><circle cx="1782" cy="1069" r="8.3"/></g>
<g id="h157"><circle cx="1936" cy="1069" r="8.3"/></g>
<g id="h158"><circle cx="1986" cy="1069" r="8.3"/></g>
<g id="h159"><circle cx="2172" cy="1069" r="8.3"/></g>
<g id="h160"><circle cx="2254" cy="1069" r="8.3"/></g>
<g id="h161"><circle cx="2323" cy="1069" r="8.3"/></g>
<g id="h162"><circle cx="141" cy="1149" r="8.3"/></g>
<g id="h163"><circle cx="209" cy="1149" r="8.3"/></g>
<g id="h164"><circle cx="242" cy="1149" r="8.3"/></g>
<g id="h165"><circle cx="276" cy="1149" r="8.3"/></g>
<g id="h166"><circle cx="310" cy="1149" r="8.3"/></g>
<g id="h167"><circle cx="343" cy="1149" r="8.3"/></g>
<g id="h168"><circle cx="377" cy="1149" r="8.3"/></g>
<g id="h169"><circle cx="817" cy="1149" r="8.3"/></g>
<g id="h170"><circle cx="1359" cy="1149" r="8.3"/></g>
<g id="h171"><circle cx="1455" cy="1149" r="8.3"/></g>
<g id="h172"><circle cx="1531" cy="1149" r="8.3"/></g>
<g id="h173"><circle cx="1565" cy="1149" r="8.3"/></g>
<g id="h174"><circle cx="1599" cy="1149" r="8.3"/></g>
<g id="h175"><circle cx="1632" cy="1149" r="8.3"/></g>
<g id="h176"><circle cx="1665" cy="1149" r="8.3"/></g>
<g id="h177"><circle cx="1739" cy="1149" r="8.3"/></g>
<g id="h178"><circle cx="1828" cy="1149" r="8.3"/></g>
<g id="h179"><circle cx="1936" cy="1149" r="8.3"/></g>
<g id="h180"><circle cx="1969" cy="1149" r="8.3"/></g>
<g id="h181"><circle cx="2003" cy="1149" r="8.3"/></g>
<g id="h182"><circle cx="2098" cy="1149" r="8.3"/></g>
<g id="h183"><circle cx="2245" cy="1149" r="8.3"/></g>
<g id="h184"><circle cx="2323" cy="1149" r="8.3"/></g>
<g id="h185"><circle cx="141" cy="1228" r="8.3"/></g>
<g id="h186"><circle cx="209" cy="1228" r="8.3"/></g>
<g id="h187"><circle cx="276" cy="1228" r="8.3"/></g>
<g id="h188"><circle cx="817" cy="1228" r="8.3"/></g>
<g id="h189"><circle cx="1342" cy="1228" r="8.3"/></g>
<g id="h190"><circle cx="1376" cy="1228" r="8.3"/></g>
<g id="h191"><circle cx="1410" cy="1228" r="8.3"/></g>
<g id="h192"><circle cx="1482" cy="1228" r="8.3"/></g>
<g id="h193"><circle cx="1565" cy="1228" r="8.3"/></g>
<g id="h194"><circle cx="1616" cy="1228" r="8.3"/></g>
<g id="h195"><circle cx="1649" cy="1228" r="8.3"/></g>
<g id="h196"><circle cx="1739" cy="1228" r="8.3"/></g>
<g id="h197"><circle cx="1828" cy="1228" r="8.3"/></g>
<g id="h198"><circle cx="1964" cy="1228" r="8.3"/></g>
<g id="h199"><circle cx="1998" cy="1228" r="8.3"/></g>
<g id="h200"><circle cx="2048" cy="1228" r="8.3"/></g>
<g id="h201"><circle cx="2082" cy="1228" r="8.3"/></g>
<g id="h202"><circle cx="2116" cy="1228" r="8.3"/></g>
<g id="h203"><circle cx="2165" cy="1228" r="8.3"/></g>
<g id="h204"><circle cx="2325" cy="1228" r="8.3"/></g>
<g id="h205"><circle cx="1342" cy="1308" r="8.3"/></g>
<g id="h206"><circle cx="1410" cy="1308" r="8.3"/></g>
<g id="h207"><circle cx="1444" cy="1308" r="8.3"/></g>
<g id="h208"><circle cx="1482" cy="1308" r="8.3"/></g>
<g id="h209"><circle cx="1517" cy="1308" r="8.3"/></g>
<g id="h210"><circle cx="1565" cy="1308" r="8.3"/></g>
<g id="h211"><circle cx="1649" cy="1308" r="8.3"/></g>
<g id="h212"><circle cx="1693" cy="1308" r="8.3"/></g>
<g id="h213"><circle cx="1739" cy="1308" r="8.3"/></g>
<g id="h214"><circle cx="1788" cy="1308" r="8.3"/></g>
<g id="h215"><circle cx="1828" cy="1308" r="8.3"/></g>
<g id="h216"><circle cx="1981" cy="1308" r="8.3"/></g>
<g id="h217"><circle cx="2014" cy="1308" r="8.3"/></g>
<g id="h218"><circle cx="2048" cy="1308" r="8.3"/></g>
<g id="h219"><circle cx="2082" cy="1308" r="8.3"/></g>
<g id="h220"><circle cx="2116" cy="1308" r="8.3"/></g>
<g id="h221"><circle cx="2149" cy="1308" r="8.3"/></g>
<g id="h222"><circle cx="2182" cy="1308" r="8.3"/></g>
<g id="h223"><circle cx="2250" cy="1308" r="8.3"/></g>
<g id="h224"><circle cx="2400" cy="1308" r="8.3"/></g>
<g id="h225"><circle cx="1427" cy="1388" r="8.3"/></g>
<g id="h226"><circle cx="1460" cy="1388" r="8.3"/></g>
<g id="h227"><circle cx="1500" cy="1388" r="8.3"/></g>
<g id="h228"><circle cx="1533" cy="1388" r="8.3"/></g>
<g id="h229"><circle cx="1720" cy="1388" r="8.3"/></g>
<g id="h230"><circle cx="1754" cy="1388" r="8.3"/></g>
<g id="h231"><circle cx="1788" cy="1388" r="8.3"/></g>
<g id="h232"><circle cx="1981" cy="1388" r="8.3"/></g>
<g id="h233"><circle cx="2165" cy="1388" r="8.3"/></g>
<g id="h234"><circle cx="2199" cy="1388" r="8.3"/></g>
<g id="h235"><circle cx="2250" cy="1388" r="8.3"/></g>
<g id="h236"><circle cx="2351" cy="1388" r="8.3"/></g>
<g id="h237"><circle cx="2451" cy="1388" r="8.3"/></g>
<g id="h238"><circle cx="1460" cy="1468" r="8.3"/></g>
<g id="h239"><circle cx="1533" cy="1468" r="8.3"/></g>
<g id="h240"><circle cx="1754" cy="1468" r="8.3"/></g>
<g id="h241"><circle cx="1964" cy="1468" r="8.3"/></g>
<g id="h242"><circle cx="1998" cy="1468" r="8.3"/></g>
<g id="h243"><circle cx="2149" cy="1468" r="8.3"/></g>
<g id="h244"><circle cx="2182" cy="1468" r="8.3"/></g>
<g id="h245"><circle cx="2216" cy="1468" r="8.3"/></g>
<g id="h246"><circle cx="2250" cy="1468" r="8.3"/></g>
<g id="h247"><circle cx="2283" cy="1468" r="8.3"/></g>
<g id="h248"><circle cx="2317" cy="1468" r="8.3"/></g>
<g id="h249"><circle cx="2384" cy="1468" r="8.3"/></g>
<g id="h250"><circle cx="2451" cy="1468" r="8.3"/></g>
<g id="h251"><circle cx="1517" cy="1547" r="8.3"/></g>
<g id="h252"><circle cx="1550" cy="1547" r="8.3"/></g>
<g id="h253"><circle cx="2149" cy="1547" r="8.3"/></g>
<g id="h254"><circle cx="2250" cy="1547" r="8.3"/></g>
<g id="h255"><circle cx="2317" cy="1547" r="8.3"/></g>
<g id="h256"><circle cx="2384" cy="1547" r="8.3"/></g>
<g id="h257"><circle cx="2451" cy="1547" r="8.3"/></g>
<g id="h258"><circle cx="1517" cy="1627" r="8.3"/></g>
<g id="h259"><circle cx="2110" cy="1627" r="8.3"/></g>
<g id="h260"><circle cx="2144" cy="1627" r="8.3"/></g>
<g id="h261"><circle cx="2193" cy="1627" r="8.3"/></g>
<g id="h262"><circle cx="2250" cy="1627" r="8.3"/></g>
<g id="h263"><circle cx="2300" cy="1627" r="8.3"/></g>
<g id="h264"><circle cx="2334" cy="1627" r="8.3"/></g>
<g id="h265"><circle cx="2368" cy="1627" r="8.3"/></g>
<g id="h266"><circle cx="2401" cy="1627" r="8.3"/></g>
<g id="h267"><circle cx="2451" cy="1627" r="8.3"/></g>
<g id="h268"><circle cx="2144" cy="1707" r="8.3"/></g>
<g id="h269"><circle cx="2177" cy="1707" r="8.3"/></g>
<g id="h270"><circle cx="2210" cy="1707" r="8.3"/></g>
<g id="h271"><circle cx="2300" cy="1707" r="8.3"/></g>
<g id="h272"><circle cx="2368" cy="1707" r="8.3"/></g>
<g id="h273"><circle cx="2401" cy="1707" r="8.3"/></g>
<g id="h274"><circle cx="2451" cy="1707" r="8.3"/></g>
<g id="h275"><circle cx="2177" cy="1787" r="8.3"/></g>
<g id="h276"><circle cx="2401" cy="1787" r="8.3"/></g>
<g id="h277"><circle cx="2435" cy="1787" r="8.3"/></g>
<g id="h278"><circle cx="2468" cy="1787" r="8.3"/></g>
<g id="h279"><circle cx="2385" cy="1866" r="8.3"/></g>
<g id="h280"><circle cx="2417" cy="1866" r="8.3"/></g>
<g id="h281"><circle cx="2401" cy="1946" r="8.3"/></g>
<g id="h282"><circle cx="2434" cy="1946" r="8.3"/></g>
<g id="h283"><circle cx="2417" cy="2026" r="8.3"/></g>
<g id="h284"><circle cx="2451" cy="2026" r="8.3"/></g>
<g id="h285"><circle cx="2401" cy="2106" r="8.3"/></g>
<g id="h286"><circle cx="2434" cy="2106" r="8.3"/></g>
</g>
<g id="nodes-ebola" class="w">
<g id="e1"><circle class="s" cx="433" cy="1416" r="14.7"/></g>
<g id="e2"><circle cx="47.6" cy="1497" r="12.3"/></g>
<g id="e3"><circle cx="95.5" cy="1497" r="12.3"/></g>
<g id="e4"><circle cx="142.9" cy="1497" r="12.3"/></g>
<g id="e5"><circle cx="190.5" cy="1497" r="12.3"/></g>
<g id="e6"><circle cx="238.2" cy="1497" r="12.3"/></g>
<g id="e7"><circle cx="285.8" cy="1497" r="12.3"/></g>
<g id="e8"><circle cx="333.4" cy="1497" r="12.3"/></g>
<g id="e9"><circle cx="381.1" cy="1497" r="12.3"/></g>
<g id="e10"><circle cx="428.7" cy="1497" r="12.3"/></g>
<g id="e11"><circle cx="476.4" cy="1497" r="12.3"/></g>
<g id="e12"><circle cx="524" cy="1497" r="12.3"/></g>
<g id="e13"><circle cx="571.6" cy="1497" r="12.3"/></g>
<g id="e14"><circle cx="619.3" cy="1497" r="12.3"/></g>
<g id="e15"><circle cx="666.9" cy="1497" r="12.3"/></g>
<g id="e16"><circle cx="714.6" cy="1497" r="12.3"/></g>
<g id="e17"><circle cx="762.2" cy="1497" r="12.3"/></g>
<g id="e18"><circle cx="881.3" cy="1497" r="12.3"/></g>
<g id="e19"><circle cx="95.5" cy="1580" r="12.3"/></g>
<g id="e20"><circle cx="238.2" cy="1580" r="12.3"/></g>
<g id="e21"><circle cx="333.4" cy="1580" r="12.3"/></g>
<g id="e22"><circle cx="738.4" cy="1580" r="12.3"/></g>
<g id="e23"><circle cx="786" cy="1580" r="12.3"/></g>
<g id="e24"><circle cx="833.5" cy="1580" r="12.3"/></g>
<g id="e25"><circle cx="881.3" cy="1580" r="12.3"/></g>
<g id="e26"><circle cx="929" cy="1580" r="12.3"/></g>
<g id="e27"><circle cx="167.3" cy="1662" r="12.3"/></g>
<g id="e28"><circle cx="214.9" cy="1662" r="12.3"/></g>
<g id="e29"><circle cx="262.5" cy="1662" r="12.3"/></g>
<g id="e30"><circle cx="309.6" cy="1662" r="12.3"/></g>
<g id="e31"><circle cx="698.7" cy="1662" r="12.3"/></g>
<g id="e32"><circle class="s" cx="913" cy="1662" r="14.7"/></g>
<g id="e33"><circle cx="1175" cy="1662" r="12.3"/></g>
<g id="e34"><circle cx="627.2" cy="1744" r="12.3"/></g>
<g id="e35"><circle cx="674.9" cy="1744" r="12.3"/></g>
<g id="e36"><circle cx="722.5" cy="1744" r="12.3"/></g>
<g id="e37"><circle cx="770.1" cy="1744" r="12.3"/></g>
<g id="e38"><circle cx="817.8" cy="1744" r="12.3"/></g>
<g id="e39"><circle cx="865.5" cy="1744" r="12.3"/></g>
<g id="e40"><circle cx="913" cy="1744" r="12.3"/></g>
<g id="e41"><circle cx="960.7" cy="1744" r="12.3"/></g>
<g id="e42"><circle cx="1008.4" cy="1744" r="12.3"/></g>
<g id="e43"><circle cx="1056" cy="1744" r="12.3"/></g>
<g id="e44"><circle class="s" cx="1295" cy="1744" r="14.7"/></g>
<g id="e45"><circle cx="746.3" cy="1827" r="12.3"/></g>
<g id="e46"><circle cx="794" cy="1827" r="12.3"/></g>
<g id="e47"><circle cx="865.5" cy="1827" r="12.3"/></g>
<g id="e48"><circle cx="936.9" cy="1827" r="12.3"/></g>
<g id="e49"><circle cx="984.6" cy="1827" r="12.3"/></g>
<g id="e50"><circle cx="1056" cy="1827" r="12.3"/></g>
<g id="e51"><circle cx="1103.6" cy="1827" r="12.3"/></g>
<g id="e52"><circle cx="1151.3" cy="1827" r="12.3"/></g>
<g id="e53"><circle cx="1198.9" cy="1827" r="12.3"/></g>
<g id="e54"><circle cx="1246.6" cy="1827" r="12.3"/></g>
<g id="e55"><circle cx="1294.2" cy="1827" r="12.3"/></g>
<g id="e56"><circle cx="1341.8" cy="1827" r="12.3"/></g>
<g id="e57"><circle cx="1389.5" cy="1827" r="12.3"/></g>
<g id="e58"><circle cx="1437.1" cy="1827" r="12.3"/></g>
<g id="e59"><circle cx="1484.7" cy="1827" r="12.3"/></g>
<g id="e60"><circle cx="1198.9" cy="1909" r="12.3"/></g>
<g id="e61"><circle cx="1460.9" cy="1909" r="12.3"/></g>
<g id="e62"><circle cx="1508.6" cy="1909" r="12.3"/></g>
<g id="e63"><circle cx="1151.3" cy="1991" r="12.3"/></g>
<g id="e64"><circle cx="1198.9" cy="1991" r="12.3"/></g>
<g id="e65"><circle cx="1246.6" cy="1991" r="12.3"/></g>
<g id="e66"><circle cx="1508.6" cy="1991" r="12.3"/></g>
<g id="e67"><circle cx="1198.9" cy="2074" r="12.3"/></g>
<g id="e68"><circle cx="1508.6" cy="2074" r="12.3"/></g>
<g id="e69"><circle cx="1484.7" cy="2156" r="12.3"/></g>
<g id="e70"><circle cx="1532.4" cy="2156" r="12.3"/></g>
</g>
<g id="labels">
<text x="2043" y="282" font-size="81">H1N1*</text>
<text x="172" y="1985" font-size="82">Ebola*</text>
</g>
<g id="legend">
<text x="1625" y="1975" font-size="67">Legend:</text>
<circle cx="1658" cy="2029" r="14.8" fill="#ff0000"/>
<text x="1718" y="2054" font-size="67">Superspreader</text>
<circle cx="1658" cy="2111" r="14.8" fill="#ffffff"/>
<text x="1718" y="2134" font-size="67">Non-superspreader</text>
</g>
</svg>
